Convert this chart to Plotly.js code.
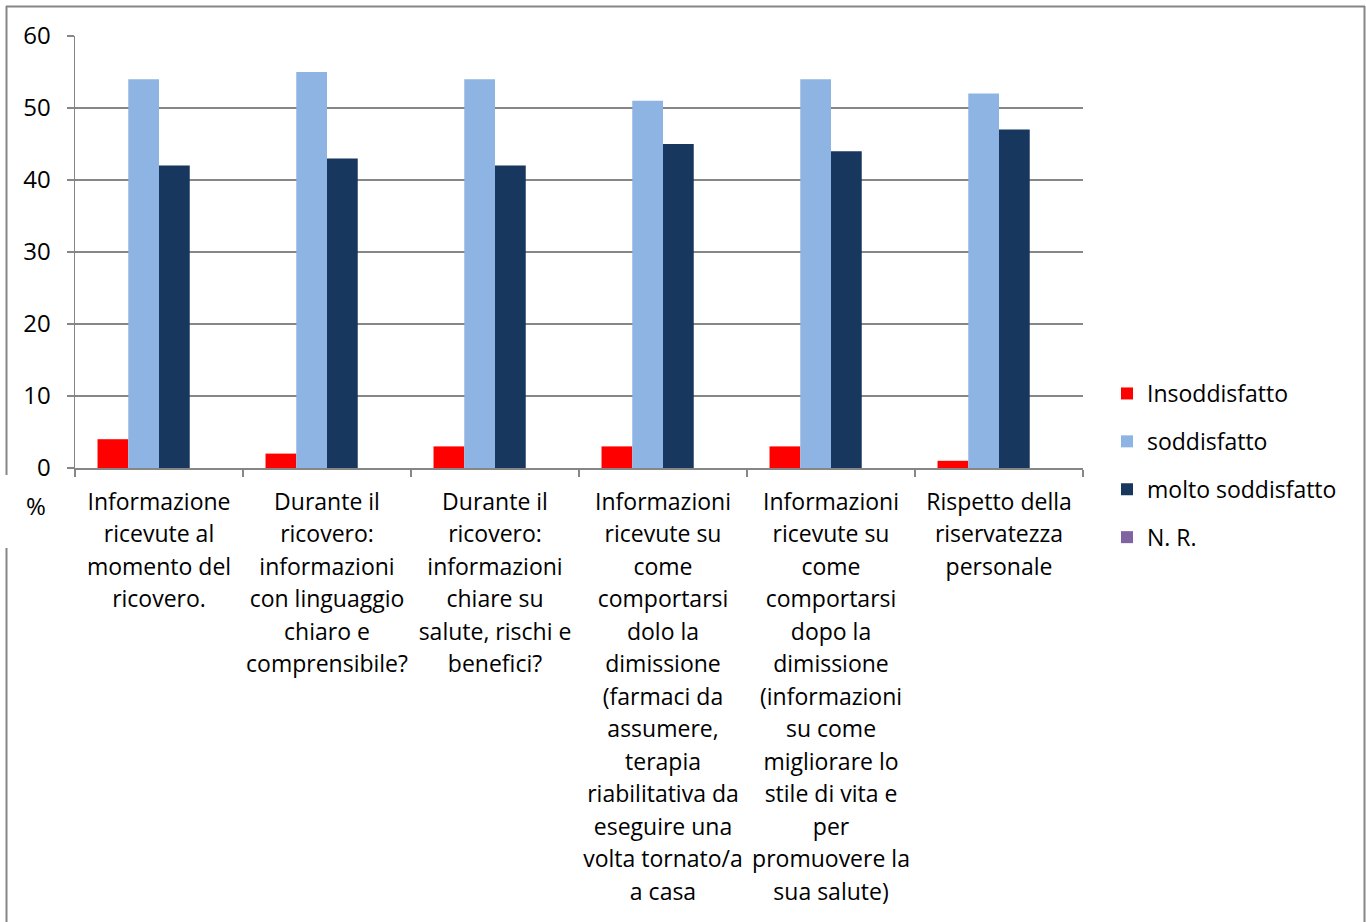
<!DOCTYPE html>
<html>
<head>
<meta charset="utf-8">
<script src="https://cdn.plot.ly/plotly-3.0.1.min.js"></script>
<style>
html, body { margin: 0; padding: 0; background: #ffffff; overflow: hidden; }
#chart { width: 1366px; height: 922px; }
</style>
</head>
<body>
<div id="chart"></div>
<script>
// ---- data ----
const categoryLines = [
  ["Informazione", "ricevute al", "momento del", "ricovero."],
  ["Durante il", "ricovero:", "informazioni", "con linguaggio", "chiaro e", "comprensibile?"],
  ["Durante il", "ricovero:", "informazioni", "chiare su", "salute, rischi e", "benefici?"],
  ["Informazioni", "ricevute su", "come", "comportarsi", "dolo la", "dimissione", "(farmaci da", "assumere,", "terapia", "riabilitativa da", "eseguire una", "volta tornato/a", "a casa"],
  ["Informazioni", "ricevute su", "come", "comportarsi", "dopo la", "dimissione", "(informazioni", "su come", "migliorare lo", "stile di vita e", "per", "promuovere la", "sua salute)"],
  ["Rispetto della", "riservatezza", "personale"]
];
const seriesNames = ["Insoddisfatto", "soddisfatto", "molto soddisfatto", "N. R."];
const insoddisfatto = [4, 2, 3, 3, 3, 1];
const soddisfatto = [54, 55, 54, 51, 54, 52];
const moltoSoddisfatto = [42, 43, 42, 45, 44, 47];
const nonRisponde = [0, 0, 0, 0, 0, 0];
const yTicks = [0, 10, 20, 30, 40, 50, 60];
const yAxisLabel = "%";

// ---- styling ----
const colors = ["#FF0000", "#8EB4E3", "#17375E", "#8064A2"];
const FONT = "'Open Sans', 'Noto Sans', sans-serif";
const gridColor = "#868686";

// layout geometry in pixels
const W = 1366, H = 922;
const PL = 75, PR = 1083, PT = 36, PB = 468;
const xp = px => (px - PL) / (PR - PL);
const yp = py => (PB - py) / (PB - PT);

const categories = categoryLines.map(lines =>
  lines.map(l => '<span style="font-size:23px">' + l + '</span>').join('<br>')
);

const valuesList = [insoddisfatto, soddisfatto, moltoSoddisfatto, nonRisponde];
const traces = valuesList.map((vals, i) => ({
  type: 'bar',
  name: seriesNames[i],
  x: categories,
  y: vals,
  marker: { color: colors[i], line: { width: 0 } },
  legendgroup: 'g' + i,
  hoverinfo: 'y'
}));

const borderColor = "#868686";
const shapes = [
  // chart border
  { type: 'line', xref: 'paper', yref: 'paper', x0: xp(6), x1: xp(1365), y0: yp(6.5), y1: yp(6.5), line: { color: borderColor, width: 2 } },
  { type: 'line', xref: 'paper', yref: 'paper', x0: xp(1364.5), x1: xp(1364.5), y0: yp(6), y1: yp(930), line: { color: borderColor, width: 2 } },
  { type: 'line', xref: 'paper', yref: 'paper', x0: xp(6.5), x1: xp(6.5), y0: yp(6), y1: yp(475), line: { color: borderColor, width: 2 } },
  { type: 'line', xref: 'paper', yref: 'paper', x0: xp(6.5), x1: xp(6.5), y0: yp(548), y1: yp(930), line: { color: borderColor, width: 2 } }
];

const layout = {
  width: W, height: H,
  margin: { l: PL, r: W - PR, t: PT, b: H - PB, pad: 0 },
  paper_bgcolor: '#ffffff',
  plot_bgcolor: '#ffffff',
  font: { family: FONT, size: 23, color: '#000000' },
  barmode: 'group',
  bargap: 0.268,
  bargroupgap: 0,
  showlegend: true,
  legend: {
    x: xp(1107), xanchor: 'left',
    y: yp(372), yanchor: 'top',
    font: { family: FONT, size: 23, color: '#000000' },
    tracegroupgap: 15,
    itemwidth: 30,
    bgcolor: 'rgba(0,0,0,0)',
    borderwidth: 0
  },
  xaxis: {
    type: 'category',
    tickson: 'boundaries',
    ticks: 'outside',
    ticklen: 7,
    tickwidth: 1.5,
    tickcolor: gridColor,
    showline: true,
    linecolor: gridColor,
    linewidth: 1.5,
    showgrid: false,
    tickangle: 0,
    ticklabelstandoff: 10,
    tickfont: { family: FONT, size: 25, color: '#000000' },
    automargin: false
  },
  yaxis: {
    range: [0, 60],
    tickmode: 'array',
    tickvals: yTicks,
    ticktext: yTicks.map(String),
    ticks: 'outside',
    ticklen: 7,
    tickwidth: 1.5,
    tickcolor: gridColor,
    showline: true,
    linecolor: gridColor,
    linewidth: 1.5,
    showgrid: true,
    gridcolor: gridColor,
    gridwidth: 1.5,
    zeroline: false,
    ticklabelstandoff: 11,
    tickfont: { family: FONT, size: 24, color: '#000000' },
    automargin: false
  },
  annotations: [
    { xref: 'paper', yref: 'paper', x: xp(36), y: yp(505), text: yAxisLabel, showarrow: false,
      xanchor: 'center', yanchor: 'middle', font: { family: FONT, size: 24, color: '#000000' } }
  ],
  shapes: shapes
};

Plotly.newPlot('chart', traces, layout, { displayModeBar: false, staticPlot: true });
</script>
</body>
</html>
